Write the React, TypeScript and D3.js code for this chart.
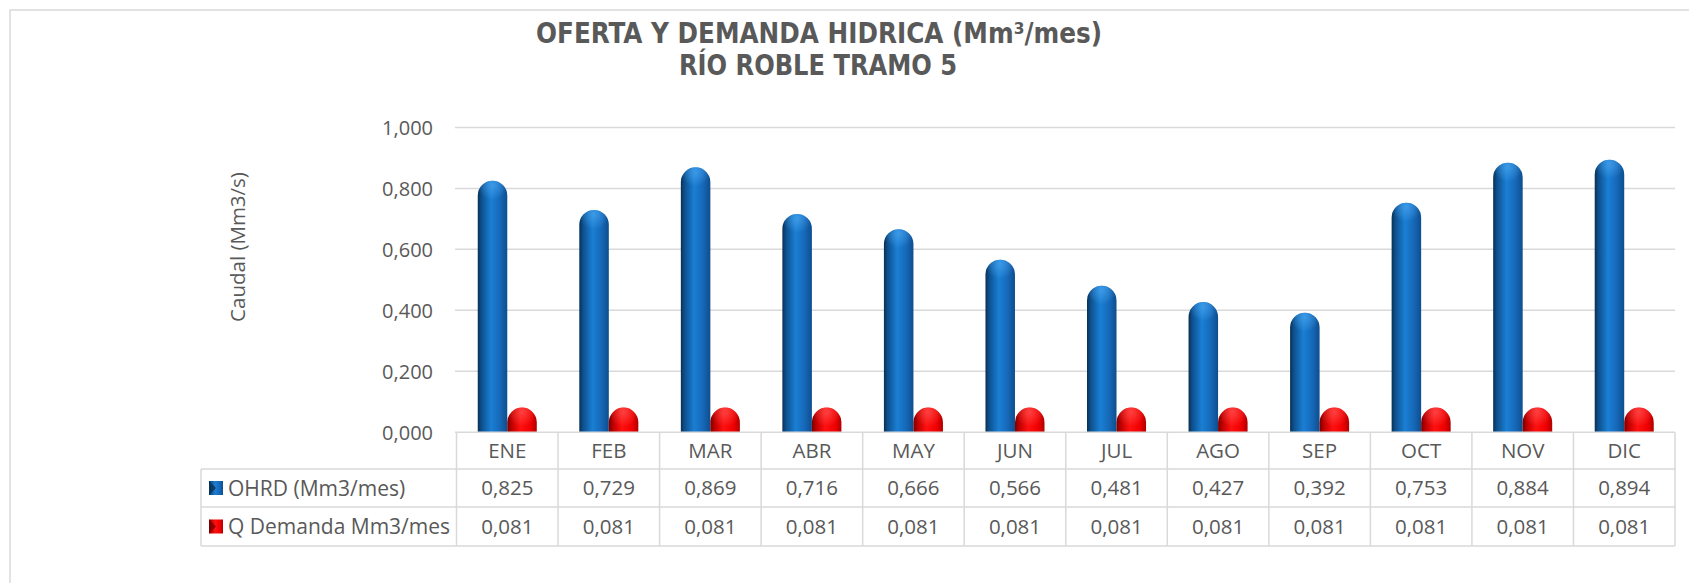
import React from "react";
import * as d3 from "d3";

const categories = ["ENE", "FEB", "MAR", "ABR", "MAY", "JUN", "JUL", "AGO", "SEP", "OCT", "NOV", "DIC"];
const ohrdValues = [0.825, 0.729, 0.869, 0.716, 0.666, 0.566, 0.481, 0.427, 0.392, 0.753, 0.884, 0.894];
const demandaValues = [0.081, 0.081, 0.081, 0.081, 0.081, 0.081, 0.081, 0.081, 0.081, 0.081, 0.081, 0.081];
const seriesNames = ["OHRD (Mm3/mes)", "Q Demanda Mm3/mes"];
const yTicks = [0, 0.2, 0.4, 0.6, 0.8, 1.0];
const titleLine1 = "OFERTA Y DEMANDA HIDRICA (Mm³/mes)";
const titleLine2 = "RÍO ROBLE TRAMO 5";
const yAxisLabel = "Caudal (Mm3/s)";

const W = 1689;
const H = 583;
const TEXT = "#595959";
const GRID = "#d9d9d9";
const FONT = "'Open Sans', sans-serif";

export default function App() {
  const plotLeft = 456.5;
  const plotRight = 1675;
  const y = d3.scaleLinear().domain([0, 1]).range([432.3, 127.4]);
  const x = d3.scaleBand<string>().domain(categories).range([plotLeft, plotRight]).paddingInner(0).paddingOuter(0);
  const inner = d3.scaleBand<string>().domain(["a", "b"]).range([0, x.bandwidth()]).paddingInner(0).paddingOuter(0.72);
  const fmt = (v: number) => d3.format(".3f")(v).replace(".", ",");

  const rowTop = 432.3;
  const row1 = 469;
  const row2 = 507;
  const row3 = 546;
  const tableLeft = 201;

  const barPath = (x0: number, w: number, top: number, bottom: number) => {
    const r = w / 2;
    const p = d3.path();
    p.moveTo(x0, bottom);
    p.lineTo(x0, top + r);
    p.arc(x0 + r, top + r, r, Math.PI, 0);
    p.lineTo(x0 + w, bottom);
    p.closePath();
    return p.toString();
  };

  const series = [
    { key: "a", values: ohrdValues, fill: "url(#gBlue)", cap: "url(#capBlue)" },
    { key: "b", values: demandaValues, fill: "url(#gRed)", cap: "url(#capRed)" },
  ];

  return (
    <svg width={W} height={H} style={{ position: "absolute", left: 0, top: 0, background: "#fff" }}>
      <defs>
        <linearGradient id="gBlue" x1="0" x2="1" y1="0" y2="0">
          <stop offset="0" stopColor="#0a2f52" />
          <stop offset="0.12" stopColor="#0d4f8c" />
          <stop offset="0.45" stopColor="#1a7fd4" />
          <stop offset="0.75" stopColor="#1668b8" />
          <stop offset="1" stopColor="#0e4e8e" />
        </linearGradient>
        <linearGradient id="gRed" x1="0" x2="1" y1="0" y2="0">
          <stop offset="0" stopColor="#7a0000" />
          <stop offset="0.15" stopColor="#c00000" />
          <stop offset="0.45" stopColor="#ff1010" />
          <stop offset="0.8" stopColor="#ee0000" />
          <stop offset="1" stopColor="#b00000" />
        </linearGradient>
        <radialGradient id="capBlue" cx="0.5" cy="0.15" r="0.5">
          <stop offset="0" stopColor="#4aa6f0" stopOpacity="0.7" />
          <stop offset="1" stopColor="#4aa6f0" stopOpacity="0" />
        </radialGradient>
        <radialGradient id="capRed" cx="0.5" cy="0.15" r="0.5">
          <stop offset="0" stopColor="#ff6060" stopOpacity="0.6" />
          <stop offset="1" stopColor="#ff6060" stopOpacity="0" />
        </radialGradient>
      </defs>

      {/* chart area border */}
      <rect x={10} y={10} width={1720} height={620} fill="#fff" stroke={GRID} strokeWidth={1.5} />

      {/* title */}
      <text x={819} y={43.3} textAnchor="middle" fill={TEXT} fontFamily="'DejaVu Sans', sans-serif" fontWeight="bold" fontStretch="condensed" fontSize={28} textLength={566} lengthAdjust="spacingAndGlyphs">
        {titleLine1}
      </text>
      <text x={818} y={75} textAnchor="middle" fill={TEXT} fontFamily="'DejaVu Sans', sans-serif" fontWeight="bold" fontStretch="condensed" fontSize={28} textLength={278} lengthAdjust="spacingAndGlyphs">
        {titleLine2}
      </text>

      {/* y axis label */}
      <text transform={`translate(238,247) rotate(-90)`} textAnchor="middle" dy="0.35em" fill={TEXT} fontFamily={FONT} fontSize={20.5}>
        {yAxisLabel}
      </text>

      {/* gridlines and tick labels */}
      {yTicks.map((t) => (
        <g key={t}>
          {t > 0 && <line x1={455} x2={plotRight} y1={y(t)} y2={y(t)} stroke={GRID} strokeWidth={1.5} />}
          <text x={433} y={y(t)} dy="0.36em" textAnchor="end" fill={TEXT} fontFamily={FONT} fontSize={20}>
            {fmt(t)}
          </text>
        </g>
      ))}

      {/* bars */}
      {series.map((s) =>
        categories.map((c, i) => {
          const x0 = (x(c) as number) + (inner(s.key) as number);
          const w = inner.bandwidth();
          const top = y(s.values[i]);
          const bottom = y(0);
          return (
            <g key={s.key + c}>
              <path d={barPath(x0, w, top, bottom)} fill={s.fill} />
              <path d={barPath(x0, w, top, top + w)} fill={s.cap} />
            </g>
          );
        })
      )}

      {/* data table */}
      <g stroke={GRID} strokeWidth={1.5} fill="none">
        <line x1={455} x2={plotRight} y1={rowTop} y2={rowTop} />
        <line x1={tableLeft} x2={plotRight} y1={row1} y2={row1} />
        <line x1={tableLeft} x2={plotRight} y1={row2} y2={row2} />
        <line x1={tableLeft} x2={plotRight} y1={row3} y2={row3} />
        <line x1={tableLeft} x2={tableLeft} y1={row1} y2={row3} />
        {categories.map((c) => (
          <line key={c} x1={x(c) as number} x2={x(c) as number} y1={rowTop} y2={row3} />
        ))}
        <line x1={plotRight} x2={plotRight} y1={rowTop} y2={row3} />
      </g>

      {categories.map((c, i) => {
        const cx = (x(c) as number) + x.bandwidth() / 2;
        return (
          <g key={"t" + c} fill={TEXT} fontFamily={FONT} fontSize={20.5} textAnchor="middle">
            <text x={cx} y={(rowTop + row1) / 2} dy="0.36em">{c}</text>
            <text x={cx} y={(row1 + row2) / 2} dy="0.36em">{fmt(ohrdValues[i])}</text>
            <text x={cx} y={(row2 + row3) / 2} dy="0.36em">{fmt(demandaValues[i])}</text>
          </g>
        );
      })}

      {/* legend keys in table */}
      {seriesNames.map((name, k) => {
        const cy = k === 0 ? (row1 + row2) / 2 : (row2 + row3) / 2;
        return (
          <g key={name}>
            <rect x={209} y={cy - 7} width={14} height={14} fill={k === 0 ? "url(#gBlue)" : "url(#gRed)"} />
            <path d={`M209,${cy - 7} L216,${cy} L209,${cy + 7} Z`} fill={k === 0 ? "#0a2f52" : "#7a0000"} opacity={0.8} />
            <text x={228} y={cy} dy="0.36em" fill={TEXT} fontFamily={FONT} fontSize={21}>
              {name}
            </text>
          </g>
        );
      })}
    </svg>
  );
}
